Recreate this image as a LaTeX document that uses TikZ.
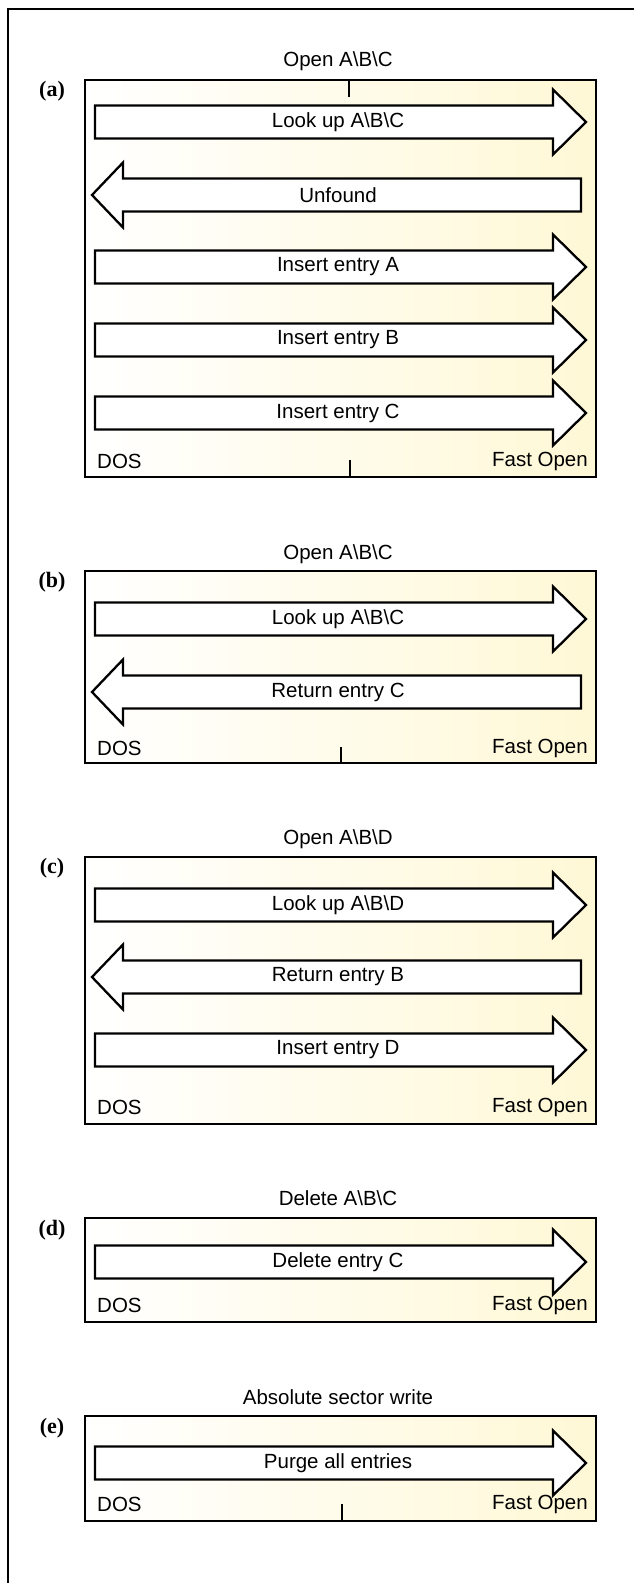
\documentclass[tikz,border=0pt]{standalone}
\usepackage{fontspec}
\setmainfont{Liberation Sans}
\newfontfamily\tagfont{Liberation Serif}
\usetikzlibrary{positioning}
\definecolor{cream}{RGB}{255,248,214}
\tikzset{
  panel/.style={draw,line width=1.8pt},
  arrline/.style={draw,fill=white,line width=2.3pt,line join=miter},
  txt/.style={inner sep=0pt,font=\fontsize{20.5}{23}\selectfont},
  tag/.style={inner sep=0pt,font=\tagfont\bfseries\fontsize{22}{25}\selectfont},
  pics/rarrow/.style={code={\path[arrline] (95,-16.5) -- (553,-16.5) -- (553,-32.5)
    -- (586,0) -- (553,32.5) -- (553,16.5) -- (95,16.5) -- cycle;}},
  pics/larrow/.style={code={\path[arrline] (581,-16.5) -- (123,-16.5) -- (123,-32.5)
    -- (92,0) -- (123,32.5) -- (123,16.5) -- (581,16.5) -- cycle;}}
}
\newcommand{\bs}{\textbackslash}
\begin{document}
\begin{tikzpicture}[x=1pt,y=-1pt]
\useasboundingbox (0,0) rectangle (634,1583);
% outer frame
\draw[line width=1.8pt] (8,1583) -- (8,9) -- (634,9);

% panel (a)
\fill[left color=white,right color=cream] (85,80) rectangle (596,477);
\draw[panel] (85,80) rectangle (596,477);
\draw[line width=1.8pt] (349,80) -- (349,97);
\draw[line width=1.8pt] (350,477) -- (350,460);
\node[txt] (titleA) at (338,61) {Open A\bs B\bs C};
\node[tag] (tagA) at (52,91) {(a)};
\pic at (0,122) {rarrow};
\pic at (0,195) {larrow};
\pic at (0,267) {rarrow};
\pic at (0,340) {rarrow};
\pic at (0,413) {rarrow};
\node[txt] (lookA) at (338,122) {Look up A\bs B\bs C};
\node[txt] (unfound) at (338,195) {Unfound};
\node[txt] (insA) at (338,267) {Insert entry A};
\node[txt] (insB) at (338,340) {Insert entry B};
\node[txt] (insC) at (338,413) {Insert entry C};
\node[txt,anchor=west] (dosA) at (97,461) {DOS};
\node[txt,anchor=east] (fastA) at (588,461) {Fast Open};

% panel (b)
\fill[left color=white,right color=cream] (85,571) rectangle (596,763);
\draw[panel] (85,571) rectangle (596,763);
\draw[line width=1.8pt] (341,763) -- (341,747);
\node[txt] (titleB) at (338,554) {Open A\bs B\bs C};
\node[tag] (tagB) at (52,582) {(b)};
\pic at (0,619) {rarrow};
\pic at (0,692) {larrow};
\node[txt] (lookB) at (338,619) {Look up A\bs B\bs C};
\node[txt] (retC) at (338,692) {Return entry C};
\node[txt,anchor=west] (dosB) at (97,748) {DOS};
\node[txt,anchor=east] (fastB) at (588,748) {Fast Open};

% panel (c)
\fill[left color=white,right color=cream] (85,857) rectangle (596,1124);
\draw[panel] (85,857) rectangle (596,1124);
\node[txt] (titleC) at (338,839) {Open A\bs B\bs D};
\node[tag] (tagC) at (52,868) {(c)};
\pic at (0,905) {rarrow};
\pic at (0,977) {larrow};
\pic at (0,1050) {rarrow};
\node[txt] (lookC) at (338,905) {Look up A\bs B\bs D};
\node[txt] (retB) at (338,977) {Return entry B};
\node[txt] (insD) at (338,1050) {Insert entry D};
\node[txt,anchor=west] (dosC) at (97,1107) {DOS};
\node[txt,anchor=east] (fastC) at (588,1107) {Fast Open};

% panel (d)
\fill[left color=white,right color=cream] (85,1218) rectangle (596,1322);
\draw[panel] (85,1218) rectangle (596,1322);
\node[txt] (titleD) at (338,1198) {Delete A\bs B\bs C};
\node[tag] (tagD) at (52,1230) {(d)};
\pic at (0,1262) {rarrow};
\node[txt] (delC) at (338,1262) {Delete entry C};
\node[txt,anchor=west] (dosD) at (97,1305) {DOS};
\node[txt,anchor=east] (fastD) at (588,1305) {Fast Open};

% panel (e)
\fill[left color=white,right color=cream] (85,1416) rectangle (596,1521);
\draw[panel] (85,1416) rectangle (596,1521);
\draw[line width=1.8pt] (342,1521) -- (342,1504);
\node[txt] (titleE) at (338,1397) {Absolute sector write};
\node[tag] (tagE) at (52,1428) {(e)};
\pic at (0,1463) {rarrow};
\node[txt] (purge) at (338,1463) {Purge all entries};
\node[txt,anchor=west] (dosE) at (97,1504) {DOS};
\node[txt,anchor=east] (fastE) at (588,1504) {Fast Open};
\end{tikzpicture}
\end{document}
